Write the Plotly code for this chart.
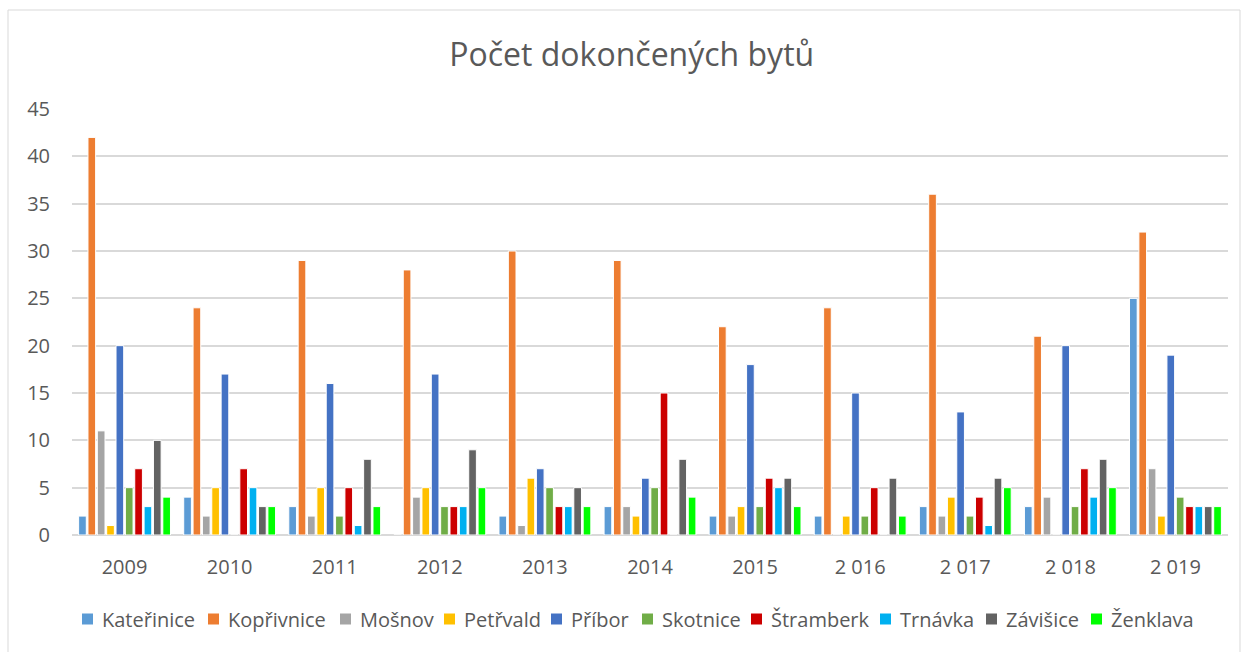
import plotly.graph_objects as go

# Years on the category axis (labels as printed in the source table)
years = ["2009", "2010", "2011", "2012", "2013", "2014", "2015",
         "2 016", "2 017", "2 018", "2 019"]

# Completed dwellings per municipality and year
katerinice = [2, 4, 3, 0, 2, 3, 2, 2, 3, 3, 25]
koprivnice = [42, 24, 29, 28, 30, 29, 22, 24, 36, 21, 32]
mosnov     = [11, 2, 2, 4, 1, 3, 2, 0, 2, 4, 7]
petrvald   = [1, 5, 5, 5, 6, 2, 3, 2, 4, 0, 2]
pribor     = [20, 17, 16, 17, 7, 6, 18, 15, 13, 20, 19]
skotnice   = [5, 0, 2, 3, 5, 5, 3, 2, 2, 3, 4]
stramberk  = [7, 7, 5, 3, 3, 15, 6, 5, 4, 7, 3]
trnavka    = [3, 5, 1, 3, 3, 0, 5, 0, 1, 4, 3]
zavisice   = [10, 3, 8, 9, 5, 8, 6, 6, 6, 8, 3]
zenklava   = [4, 3, 3, 5, 3, 4, 3, 2, 5, 5, 3]

y_ticks = [0, 5, 10, 15, 20, 25, 30, 35, 40, 45]

series = [
    ("Kateřinice", katerinice, "#5B9BD5"),
    ("Kopřivnice", koprivnice, "#ED7D31"),
    ("Mošnov", mosnov, "#A5A5A5"),
    ("Petřvald", petrvald, "#FFC000"),
    ("Příbor", pribor, "#4472C4"),
    ("Skotnice", skotnice, "#70AD47"),
    ("Štramberk", stramberk, "#CC0000"),
    ("Trnávka", trnavka, "#00B0F0"),
    ("Závišice", zavisice, "#636363"),
    ("Ženklava", zenklava, "#00FF00"),
]

FONT = "Open Sans"
TEXT = "#595959"

W, H = 1246, 652
ML, MR, MT, MB = 72, 18, 109, 117
PW, PH = W - ML - MR, H - MT - MB


def px_x(px):
    """Pixel column -> paper x."""
    return (px - ML) / PW


def px_y(py):
    """Pixel row -> paper y."""
    return (H - MB - py) / PH


fig = go.Figure()
for name, vals, color in series:
    fig.add_trace(go.Bar(
        name=name, x=years, y=vals, showlegend=False,
        marker=dict(color=color, line=dict(color="white", width=1)),
    ))

# Legend row below the plot: one swatch and label per municipality
legend_left = [82, 208, 340, 444, 551, 642, 751, 880, 986, 1091]
legend_row = 619
swatch = 11
shapes = [dict(type="rect", xref="paper", yref="paper",
               x0=px_x(8), x1=px_x(1240), y0=px_y(653), y1=px_y(10),
               line=dict(color="#D9D9D9", width=1), layer="below")]
annotations = []
for (name, _, color), left in zip(series, legend_left):
    shapes.append(dict(type="rect", xref="paper", yref="paper",
                       x0=px_x(left), x1=px_x(left + swatch),
                       y0=px_y(legend_row + swatch / 2),
                       y1=px_y(legend_row - swatch / 2),
                       fillcolor=color, line=dict(width=0)))
    annotations.append(dict(text=name, xref="paper", yref="paper",
                            x=px_x(left + swatch + 7), y=px_y(legend_row),
                            xanchor="left", yanchor="middle", showarrow=False,
                            font=dict(family=FONT, size=20, color=TEXT)))

fig.update_layout(
    width=W, height=H,
    paper_bgcolor="white", plot_bgcolor="white",
    barmode="group", bargap=0.11, bargroupgap=0.18,
    margin=dict(l=ML, r=MR, t=MT, b=MB),
    font=dict(family=FONT, color=TEXT, size=20),
    showlegend=False,
    title=dict(text="Počet dokončených bytů", x=0.507, xref="container",
               xanchor="center", y=1 - 55 / H, yref="container",
               yanchor="middle", font=dict(family=FONT, size=32, color=TEXT)),
    xaxis=dict(showgrid=False, showline=False, ticks="",
               ticklabelstandoff=18, tickfont=dict(size=20, color=TEXT)),
    yaxis=dict(range=[0, 45], tickvals=y_ticks, showgrid=True,
               gridcolor="#D9D9D9", gridwidth=1.5, zeroline=True,
               zerolinecolor="#D9D9D9", zerolinewidth=1.5, ticks="",
               ticklabelstandoff=21, tickfont=dict(size=20, color=TEXT)),
    shapes=shapes,
    annotations=annotations,
)

fig.write_html("out.html")
